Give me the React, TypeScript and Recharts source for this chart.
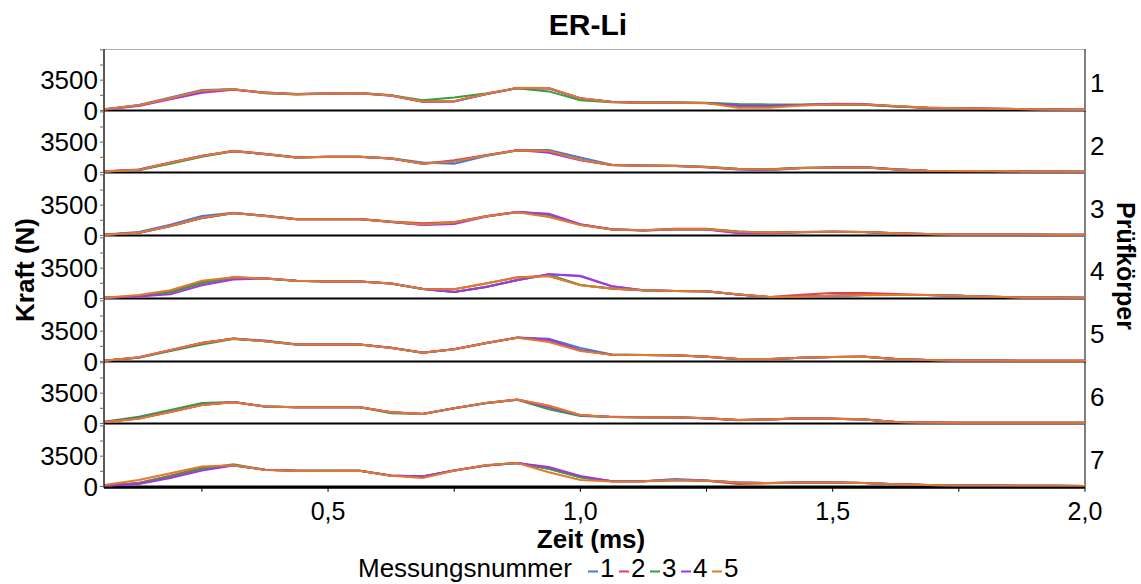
import React from 'react'
import { LineChart, Line, XAxis, YAxis, ReferenceLine } from 'recharts'

// Zeit in ms (Abtastung 0,0625 ms)
const zeit = [0.056, 0.125, 0.1875, 0.25, 0.3125, 0.375, 0.4375, 0.5, 0.5625, 0.625, 0.6875, 0.75, 0.8125, 0.875, 0.9375, 1.0,
  1.0625, 1.125, 1.1875, 1.25, 1.3125, 1.375, 1.4375, 1.5, 1.5625, 1.625, 1.6875, 1.75, 1.8125, 1.875, 1.9375, 2.0]

// Kraft (N) je Prüfkörper, Messungen 1-5
const pk1 = [
  [130, 640, 1500, 2350, 2440, 2060, 1900, 1980, 2010, 1750, 1000, 1040, 1870, 2600, 2560, 1400, 990, 910, 890, 850, 520, 500, 640, 720, 690, 480, 300, 230, 190, 150, 110, 70],
  [110, 580, 1380, 2250, 2420, 2030, 1870, 1950, 1990, 1720, 1030, 1070, 1890, 2580, 2570, 1390, 970, 890, 910, 870, 600, 560, 610, 690, 660, 460, 320, 250, 210, 170, 130, 90],
  [120, 600, 1420, 2280, 2450, 2000, 1830, 1940, 2010, 1760, 1180, 1490, 1960, 2560, 2200, 1180, 950, 920, 920, 900, 750, 700, 700, 730, 660, 450, 300, 240, 200, 160, 120, 80],
  [100, 500, 1280, 2040, 2400, 2060, 1890, 1970, 2000, 1710, 1000, 1050, 1870, 2590, 2540, 1420, 1000, 900, 880, 840, 560, 500, 640, 760, 740, 500, 320, 250, 200, 160, 120, 80],
  [130, 610, 1420, 2290, 2440, 2050, 1880, 1960, 2000, 1730, 1040, 1080, 1900, 2610, 2600, 1410, 990, 900, 900, 850, 310, 300, 560, 700, 690, 520, 340, 260, 210, 160, 120, 80],
]
const pk2 = [
  [100, 260, 1050, 1860, 2480, 2160, 1750, 1810, 1820, 1640, 1140, 1020, 1900, 2560, 2590, 1730, 900, 790, 740, 610, 330, 240, 480, 560, 620, 380, 210, 160, 150, 120, 110, 80],
  [120, 320, 1120, 1900, 2520, 2120, 1730, 1800, 1800, 1600, 1000, 1410, 2000, 2560, 2460, 1450, 840, 770, 760, 640, 400, 360, 520, 560, 590, 340, 200, 160, 160, 120, 120, 80],
  [110, 280, 1000, 1800, 2450, 2110, 1720, 1790, 1800, 1620, 1040, 1300, 1950, 2540, 2520, 1480, 870, 790, 760, 650, 430, 380, 530, 540, 580, 360, 210, 170, 160, 130, 120, 80],
  [140, 340, 1160, 1920, 2460, 2110, 1740, 1800, 1790, 1600, 1020, 1300, 1980, 2580, 2270, 1400, 850, 780, 740, 610, 360, 340, 500, 560, 600, 340, 190, 150, 150, 120, 110, 80],
  [120, 300, 1110, 1890, 2470, 2120, 1730, 1810, 1800, 1610, 1000, 1280, 1960, 2550, 2480, 1460, 860, 780, 750, 630, 390, 350, 510, 550, 580, 340, 200, 160, 160, 120, 120, 80],
]
const pk3 = [
  [100, 390, 1250, 2240, 2620, 2280, 1890, 1880, 1870, 1560, 1230, 1480, 2210, 2730, 2410, 1260, 700, 580, 700, 700, 400, 300, 380, 420, 400, 250, 160, 120, 120, 110, 80, 80],
  [80, 300, 1080, 2020, 2580, 2260, 1870, 1880, 1890, 1600, 1410, 1560, 2210, 2700, 2380, 1240, 720, 600, 780, 780, 470, 330, 400, 440, 400, 240, 160, 120, 120, 120, 80, 80],
  [70, 290, 1060, 2000, 2570, 2270, 1880, 1880, 1880, 1570, 1260, 1500, 2190, 2690, 2380, 1240, 700, 590, 720, 720, 450, 320, 390, 430, 380, 230, 150, 120, 120, 120, 80, 80],
  [80, 300, 1100, 2030, 2600, 2280, 1880, 1890, 1890, 1560, 1210, 1330, 2150, 2720, 2510, 1300, 720, 580, 700, 690, 240, 260, 380, 440, 400, 250, 170, 120, 120, 120, 80, 80],
  [80, 310, 1090, 2040, 2580, 2260, 1880, 1870, 1870, 1570, 1260, 1490, 2190, 2680, 2120, 1200, 700, 600, 710, 720, 440, 320, 400, 430, 390, 240, 160, 120, 120, 120, 80, 80],
]
const pk4 = [
  [80, 260, 720, 1800, 2420, 2310, 2040, 1960, 1960, 1730, 1100, 760, 1330, 2130, 2790, 2560, 1400, 940, 860, 820, 470, 160, 200, 310, 390, 390, 390, 310, 200, 120, 120, 80],
  [80, 290, 780, 1880, 2440, 2300, 2040, 1960, 1960, 1730, 1110, 1070, 1740, 2440, 2600, 1540, 1130, 940, 860, 820, 470, 160, 430, 630, 630, 510, 400, 310, 200, 120, 120, 80],
  [80, 250, 700, 1760, 2400, 2300, 2030, 1950, 1960, 1720, 1090, 740, 1320, 2110, 2770, 1550, 1150, 930, 860, 810, 460, 160, 200, 300, 380, 390, 390, 310, 200, 120, 120, 80],
  [70, 220, 470, 1530, 2200, 2320, 2050, 1970, 1960, 1740, 1100, 750, 1330, 2120, 2800, 2620, 1420, 950, 870, 830, 470, 150, 200, 310, 390, 390, 390, 320, 200, 120, 120, 80],
  [90, 390, 940, 2040, 2460, 2310, 2040, 1960, 1960, 1730, 1100, 1060, 1730, 2430, 2590, 1520, 1140, 940, 860, 820, 480, 170, 210, 320, 400, 390, 390, 310, 200, 120, 120, 80],
]
const pk5 = [
  [80, 450, 1270, 2140, 2650, 2430, 1980, 1960, 1970, 1580, 1010, 1400, 2110, 2760, 2630, 1570, 800, 750, 700, 540, 260, 260, 420, 500, 550, 270, 160, 120, 110, 80, 80, 80],
  [90, 500, 1330, 2150, 2620, 2340, 1950, 1960, 1950, 1560, 1030, 1420, 2130, 2760, 2500, 1280, 770, 740, 710, 560, 280, 280, 440, 520, 560, 280, 170, 120, 120, 80, 80, 80],
  [70, 420, 1200, 1960, 2600, 2340, 1960, 1950, 1960, 1570, 1020, 1400, 2110, 2740, 2520, 1300, 790, 750, 720, 550, 270, 270, 430, 510, 540, 270, 160, 120, 120, 80, 80, 80],
  [80, 460, 1280, 2110, 2640, 2350, 1970, 1960, 1960, 1580, 1020, 1410, 2120, 2750, 2510, 1300, 780, 750, 710, 550, 270, 260, 420, 500, 550, 270, 160, 120, 120, 80, 80, 80],
  [90, 490, 1310, 2140, 2620, 2340, 1950, 1960, 1960, 1560, 1010, 1420, 2130, 2740, 2240, 1220, 770, 750, 710, 550, 280, 280, 440, 510, 550, 280, 160, 120, 120, 80, 80, 80],
]
const pk6 = [
  [160, 600, 1380, 2170, 2480, 1970, 1880, 1880, 1880, 1300, 1100, 1750, 2340, 2750, 1900, 950, 750, 710, 700, 580, 380, 460, 590, 550, 470, 160, 120, 80, 80, 80, 80, 80],
  [150, 560, 1330, 2140, 2460, 1950, 1870, 1880, 1890, 1300, 1110, 1770, 2360, 2760, 2040, 960, 760, 720, 710, 600, 400, 480, 600, 560, 480, 170, 120, 80, 80, 80, 80, 80],
  [200, 780, 1570, 2350, 2490, 1960, 1880, 1870, 1880, 1180, 1090, 1750, 2340, 2740, 1650, 860, 740, 700, 710, 590, 390, 470, 590, 550, 460, 160, 120, 80, 80, 80, 80, 80],
  [160, 590, 1360, 2150, 2470, 1960, 1880, 1880, 1880, 1290, 1100, 1760, 2350, 2750, 1880, 950, 750, 710, 710, 590, 390, 470, 600, 550, 470, 160, 120, 80, 80, 80, 80, 80],
  [140, 550, 1320, 2130, 2450, 1950, 1880, 1880, 1880, 1290, 1100, 1770, 2360, 2760, 2040, 970, 750, 720, 710, 590, 390, 470, 590, 550, 470, 160, 120, 80, 80, 80, 80, 80],
]
const pk7 = [
  [80, 390, 1220, 2120, 2430, 1920, 1800, 1800, 1800, 1250, 1140, 1840, 2430, 2710, 2060, 1080, 590, 590, 860, 690, 470, 390, 470, 470, 390, 240, 160, 120, 120, 80, 80, 40],
  [80, 400, 1230, 2130, 2440, 1920, 1800, 1800, 1800, 1260, 1140, 1840, 2420, 2700, 2040, 1060, 590, 590, 750, 670, 270, 360, 470, 470, 390, 240, 160, 120, 120, 80, 80, 40],
  [70, 350, 1150, 2050, 2550, 1930, 1800, 1800, 1800, 1250, 1150, 1840, 2430, 2710, 2050, 1060, 590, 590, 740, 670, 470, 390, 470, 470, 390, 240, 160, 120, 120, 80, 80, 40],
  [60, 270, 980, 1840, 2420, 1930, 1810, 1800, 1800, 1260, 1150, 1850, 2430, 2720, 2240, 1220, 600, 590, 750, 670, 470, 390, 470, 470, 390, 240, 160, 120, 120, 80, 80, 40],
  [160, 750, 1530, 2310, 2440, 1910, 1790, 1790, 1800, 1240, 980, 1820, 2470, 2700, 1650, 750, 580, 590, 750, 670, 470, 390, 470, 470, 390, 240, 160, 120, 120, 80, 80, 40],
]

const pruefkoerper = [pk1, pk2, pk3, pk4, pk5, pk6, pk7]
const messungen = ['1', '2', '3', '4', '5']
const farben = ['#4a78d6', '#e0404c', '#2fa043', '#a535e0', '#e07a2c']
const yTicks = [0, 1750, 3500, 5250, 7000]
const xTicks = [0.25, 0.5, 0.75, 1.0, 1.25, 1.5, 1.75, 2.0]

const TOP = 48.5
const PANEL_H = 62.75
const X_AXIS_H = 60
const PAD = 20 // room below each panel so the "0" label is not clipped
const FONT = '"Liberation Sans", Arial, sans-serif'

function Panel({ idx }: { idx: number }) {
  const series = pruefkoerper[idx]
  const rows = zeit.map((t, k) => {
    const row: any = { t }
    messungen.forEach((m, j) => { row['m' + m] = series[j][k] })
    return row
  })
  const last = idx === pruefkoerper.length - 1
  return (
    <div style={{ position: 'absolute', left: 0, top: TOP + idx * PANEL_H }}>
      <LineChart width={1141} height={PANEL_H + (last ? X_AXIS_H : PAD)} data={rows}
        margin={{ top: 0, right: 56, bottom: last ? 0 : PAD, left: 0 }}>
        <XAxis type="number" dataKey="t" domain={[0.056, 2.0]} allowDataOverflow hide={!last}
          ticks={xTicks} interval={0} height={X_AXIS_H}
          tickFormatter={(v: number) => (Math.abs(v * 2 - Math.round(v * 2)) < 1e-6 ? v.toFixed(1).replace('.', ',') : '')}
          axisLine={{ stroke: '#000', strokeWidth: 2 }} tickLine={{ stroke: '#000' }} tickSize={4} tickMargin={10}
          tick={{ fontSize: 25, fill: '#000' }} />
        <YAxis domain={[-150, 7100]} allowDataOverflow ticks={yTicks} interval={0} width={104}
          tickFormatter={(v: number) => (v === 0 || v === 3500 ? String(v) : '')}
          axisLine={{ stroke: '#222', strokeWidth: 1.5 }} tickLine={{ stroke: '#666' }} tickSize={4}
          tick={{ fontSize: 26, fill: '#000' }} />
        {idx === 0 && <ReferenceLine y={7100} stroke="#999" strokeWidth={1.5} />}
        <ReferenceLine x={2.0} stroke="#000" strokeWidth={1} />
        <ReferenceLine y={0} stroke="#000" strokeWidth={2} />
        {messungen.map((m, j) => (
          <Line key={m} type="linear" dataKey={'m' + m} stroke={farben[j]} strokeWidth={2}
            dot={false} isAnimationActive={false} />
        ))}
      </LineChart>
    </div>
  )
}

export default function App() {
  return (
    <div style={{ position: 'absolute', left: 0, top: 0, width: 1141, height: 584, background: '#fff', fontFamily: FONT }}>
      {pruefkoerper.map((_, i) => <Panel key={i} idx={i} />)}
      <svg width={1141} height={584} style={{ position: 'absolute', left: 0, top: 0, pointerEvents: 'none' }}
        fontFamily={FONT}>
        <text x={588} y={35} textAnchor="middle" fontSize={30} fontWeight="bold">ER-Li</text>
        <text x={34} y={270} textAnchor="middle" fontSize={26} fontWeight="bold" transform="rotate(-90 34 270)">Kraft (N)</text>
        <text x={1117} y={266} textAnchor="middle" fontSize={25} fontWeight="bold" transform="rotate(90 1117 266)">Prüfkörper</text>
        {pruefkoerper.map((_, i) => (
          <text key={i} x={1090} y={92 + i * PANEL_H} fontSize={26}>{i + 1}</text>
        ))}
        <text x={591} y={548} textAnchor="middle" fontSize={26} fontWeight="bold">Zeit (ms)</text>
        <text x={358} y={577} fontSize={26}>Messungsnummer</text>
        {messungen.map((m, j) => (
          <g key={m}>
            <line x1={588 + j * 31} x2={598 + j * 31} y1={571.5} y2={571.5} stroke={farben[j]} strokeWidth={2} />
            <text x={600 + j * 31} y={577} fontSize={26}>{m}</text>
          </g>
        ))}
      </svg>
    </div>
  )
}
